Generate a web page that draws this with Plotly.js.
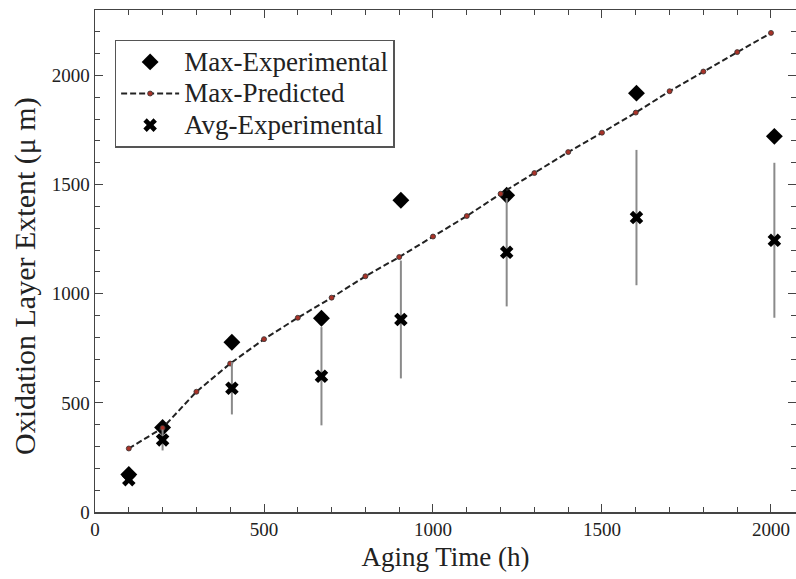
<!DOCTYPE html>
<html>
<head>
<meta charset="utf-8">
<script src="https://cdn.plot.ly/plotly-3.0.1.min.js"></script>
<style>html,body{margin:0;padding:0;background:#fff;}#chart{width:796px;height:579px;}</style>
</head>
<body>
<div id="chart"></div>
<script>
// Data
const maxExpTime = [100, 200, 405, 670, 905, 1218, 1602, 2010];
const maxExpValue = [172, 387, 778, 888, 1428, 1451, 1919, 1721];

const predTime = [100, 200, 300, 400, 500, 600, 700, 800, 900, 1000, 1100, 1200, 1300, 1400, 1500, 1600, 1700, 1800, 1900, 2000];
const predValue = [291, 385, 551, 680, 792, 890, 982, 1080, 1168, 1262, 1356, 1458, 1553, 1649, 1738, 1830, 1928, 2018, 2107, 2195];

const avgExpTime = [100, 200, 405, 670, 905, 1218, 1602, 2010];
const avgExpValue = [148, 330, 567, 622, 882, 1190, 1349, 1245];
const avgExpErr = [0, 48, 120, 225, 270, 248, 310, 355];

const seriesNames = ['Max-Experimental', 'Max-Predicted', 'Avg-Experimental'];
const xTitle = 'Aging Time (h)';
const yTitle = 'Oxidation Layer Extent (μ m)';

const serif = 'Liberation Serif, Times New Roman, serif';
const big = s => '<span style="font-size:27px">' + s + '</span>';

const traces = [
  {
    x: maxExpTime, y: maxExpValue, name: big(seriesNames[0]), mode: 'markers', type: 'scatter',
    marker: {symbol: 'diamond', size: 13, color: '#000'}
  },
  {
    x: predTime, y: predValue, name: big(seriesNames[1]), mode: 'lines+markers', type: 'scatter',
    line: {color: '#222', width: 2, dash: '6px,3px'},
    marker: {symbol: 'circle', size: 5, color: '#a83228', line: {color: '#333', width: 0.8}}
  },
  {
    x: avgExpTime, y: avgExpValue, name: big(seriesNames[2]), mode: 'markers', type: 'scatter',
    marker: {symbol: 'x', size: 12, color: '#000'},
    error_y: {type: 'data', array: avgExpErr, visible: true, color: '#8a8a8a', thickness: 2, width: 0}
  }
];

const axisCommon = {
  showgrid: false, zeroline: false, showline: true, linecolor: '#444', linewidth: 1.5,
  mirror: 'allticks', ticks: 'inside', ticklen: 8, tickwidth: 1, tickcolor: '#444',
  tickfont: {family: serif, size: 19, color: '#222'}
};

const layout = {
  width: 796, height: 579,
  margin: {l: 95, r: 0, t: 10, b: 67},
  paper_bgcolor: '#fff', plot_bgcolor: '#fff',
  showlegend: true,
  xaxis: Object.assign({}, axisCommon, {
    range: [0, 2074], dtick: 500, tick0: 0,
    minor: {dtick: 100, ticks: 'inside', ticklen: 5, tickcolor: '#444'},
    title: {text: xTitle, font: {family: serif, size: 27, color: '#222'}, standoff: 8}
  }),
  yaxis: Object.assign({}, axisCommon, {
    range: [0, 2300], dtick: 500, tick0: 0,
    minor: {dtick: 100, ticks: 'inside', ticklen: 5, tickcolor: '#444'}
  }),
  annotations: [{
    text: yTitle, textangle: -90, showarrow: false,
    xref: 'paper', yref: 'paper', x: -0.1, y: 0.47, xanchor: 'center', yanchor: 'middle',
    font: {family: serif, size: 30, color: '#222'}
  }],
  legend: {
    x: 0.028, y: 0.941, xanchor: 'left', yanchor: 'top',
    bordercolor: '#555', borderwidth: 1.5, bgcolor: '#fff',
    font: {family: serif, size: 22, color: '#222'},
    traceorder: 'normal', itemwidth: 58
  }
};

Plotly.newPlot('chart', traces, layout, {displayModeBar: false, staticPlot: true});
</script>
</body>
</html>
